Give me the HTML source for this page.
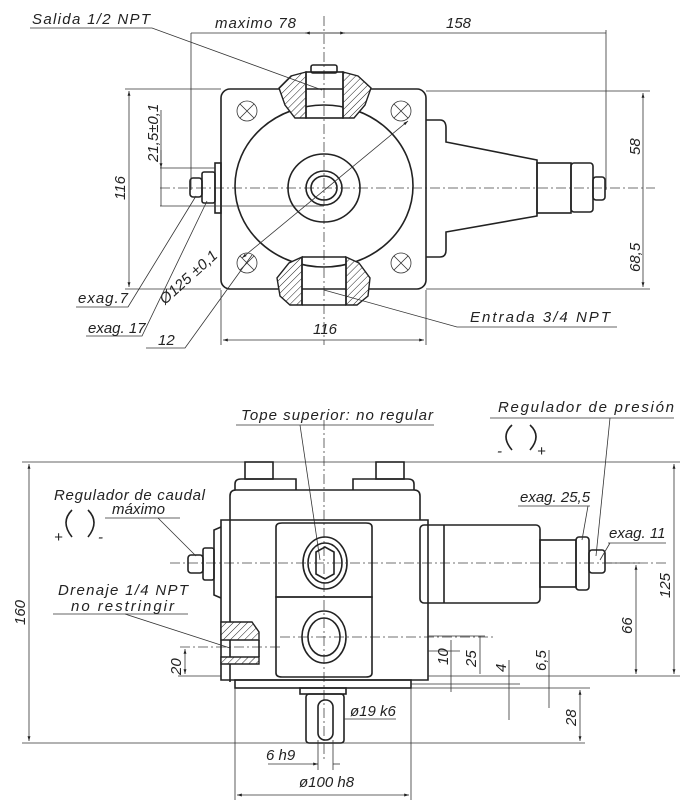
<!DOCTYPE html>
<html><head><meta charset="utf-8"><style>
html,body{margin:0;padding:0;background:#fff}
svg{display:block}
text{font-family:"Liberation Sans",sans-serif;font-style:italic;font-size:15px;fill:#222}
.l{stroke:#222;stroke-width:1.6;fill:none}
.t{stroke:#333;stroke-width:0.8;fill:none}
.c{stroke:#444;stroke-width:0.8;fill:none;stroke-dasharray:10 3 2 3}
.h{fill:url(#hat);stroke:#222;stroke-width:1.4}
</style></head><body>
<svg width="700" height="804" viewBox="0 0 700 804" xmlns="http://www.w3.org/2000/svg">
<defs>
<pattern id="hat" width="5" height="5" patternUnits="userSpaceOnUse" patternTransform="rotate(45)">
<rect width="5" height="5" fill="#fff"/><line x1="0" y1="0" x2="0" y2="5" stroke="#222" stroke-width="1"/></pattern>
<marker id="a" viewBox="0 0 10 10" refX="10" refY="5" markerWidth="8" markerHeight="6" orient="auto-start-reverse"><path d="M0,2 L10,5 L0,8z" fill="#222"/></marker>
</defs>

<!-- ===== TOP VIEW ===== -->
<line class="c" x1="160" y1="188" x2="655" y2="188"/>
<line class="c" x1="324" y1="16" x2="324" y2="345"/>
<rect class="l" x="221" y="89" width="205" height="200" rx="9"/>
<ellipse class="l" cx="324" cy="186" rx="89" ry="81"/>
<ellipse class="l" cx="324" cy="188" rx="36" ry="34"/>
<ellipse class="l" cx="324" cy="188" rx="18" ry="17"/>
<ellipse class="l" cx="324" cy="188" rx="13" ry="12"/>
<g class="t">
<circle cx="247" cy="111" r="10"/><path d="M240,104l14,14M254,104l-14,14"/>
<circle cx="401" cy="111" r="10"/><path d="M394,104l14,14M408,104l-14,14"/>
<circle cx="247" cy="263" r="10"/><path d="M240,256l14,14M254,256l-14,14"/>
<circle cx="401" cy="263" r="10"/><path d="M394,256l14,14M408,256l-14,14"/>
</g>
<path class="h" d="M306,72 L291,76 L279,88 L285,105 L295,118 L306,118Z"/>
<path class="h" d="M343,72 L358,76 L371,88 L365,105 L354,118 L343,118Z"/>
<rect class="l" x="306" y="72" width="37" height="46"/>
<rect class="l" x="311" y="65" width="26" height="8" rx="2"/>
<path class="h" d="M302,257 L289,263 L277,278 L280,296 L290,305 L302,305Z"/>
<path class="h" d="M346,257 L359,263 L370,278 L368,296 L357,305 L346,305Z"/>
<path class="l" d="M302,257 L346,257 M302,305 L346,305 M302,257 L302,305 M346,257 L346,305"/>
<path class="l" d="M426,120 L440,120 Q446,120 446,128 L446,142 L537,160 L537,216 L446,232 L446,250 Q446,257 440,257 L426,257"/>
<rect class="l" x="537" y="163" width="34" height="50"/>
<rect class="l" x="571" y="163" width="22" height="49" rx="3"/>
<rect class="l" x="593" y="177" width="12" height="23" rx="3"/>
<rect class="l" x="215" y="163" width="6" height="50"/>
<rect class="l" x="202" y="172" width="13" height="31" rx="2"/>
<rect class="l" x="190" y="178" width="12" height="19" rx="3"/>
<line class="t" x1="191" y1="33" x2="606" y2="33"/>
<line class="t" x1="191" y1="33" x2="191" y2="190" />
<line class="t" x1="606" y1="30" x2="606" y2="190"/>
<line class="t" x1="324" y1="33" x2="305" y2="33" marker-end="url(#a)"/>
<line class="t" x1="324" y1="33" x2="345" y2="33" marker-end="url(#a)"/>
<text x="215" y="28" textLength="81">maximo 78</text>
<text x="446" y="28">158</text>
<text x="32" y="24" textLength="118">Salida 1/2 NPT</text>
<polyline class="t" points="30,28 152,28 322,90"/>
<line class="t" x1="125" y1="89" x2="221" y2="89"/>
<line class="t" x1="125" y1="289" x2="221" y2="289"/>
<line class="t" x1="129" y1="91" x2="129" y2="287" marker-start="url(#a)" marker-end="url(#a)"/>
<text transform="translate(125,200) rotate(-90)">116</text>
<line class="t" x1="160" y1="168" x2="215" y2="168"/>
<line class="t" x1="160" y1="206" x2="324" y2="206"/>
<line class="t" x1="161" y1="110" x2="161" y2="206"/>
<line class="t" x1="161" y1="150" x2="161" y2="168" marker-end="url(#a)"/>
<text transform="translate(158,162) rotate(-90)">21,5±0,1</text>
<line class="t" x1="426" y1="91" x2="650" y2="91"/>
<line class="t" x1="426" y1="289" x2="650" y2="289"/>
<line class="t" x1="643" y1="93" x2="643" y2="287" marker-start="url(#a)" marker-end="url(#a)"/>
<text transform="translate(640,155) rotate(-90)">58</text>
<text transform="translate(640,272) rotate(-90)">68,5</text>
<line class="t" x1="408" y1="121" x2="242" y2="258" marker-start="url(#a)" marker-end="url(#a)"/>
<text transform="translate(165,305) rotate(-42)" textLength="72">Ø125 ±0,1</text>
<polyline class="t" points="76,307 128,307 196,196"/>
<text x="78" y="303" textLength="50">exag.7</text>
<polyline class="t" points="86,336 142,336 207,201"/>
<text x="88" y="333">exag. 17</text>
<polyline class="t" points="146,348 185,348 252,255"/>
<text x="158" y="345">12</text>
<line class="t" x1="221" y1="290" x2="221" y2="345"/>
<line class="t" x1="426" y1="290" x2="426" y2="345"/>
<line class="t" x1="223" y1="340" x2="424" y2="340" marker-start="url(#a)" marker-end="url(#a)"/>
<text x="313" y="334">116</text>
<polyline class="t" points="324,290 457,327 617,327"/>
<text x="470" y="322" textLength="140">Entrada 3/4 NPT</text>

<!-- ===== BOTTOM VIEW ===== -->
<line class="c" x1="170" y1="563" x2="668" y2="563"/>
<line class="c" x1="324" y1="420" x2="324" y2="760"/>
<line class="c" x1="180" y1="647" x2="280" y2="647"/>
<line class="c" x1="280" y1="637" x2="495" y2="637"/>
<text x="241" y="420" textLength="192">Tope superior: no regular</text>
<line class="t" x1="236" y1="425" x2="434" y2="425"/>
<line class="t" x1="300" y1="425" x2="320" y2="560"/>
<text x="498" y="412" textLength="176">Regulador de presión</text>
<line class="t" x1="490" y1="418" x2="674" y2="418"/>
<line class="t" x1="610" y1="418" x2="596" y2="556"/>
<path class="l" d="M512,450 Q500,436 512,425 M530,425 Q542,436 530,450"/>
<text x="497" y="456">-</text><text x="537" y="456">+</text>
<line class="t" x1="22" y1="462" x2="680" y2="462"/>
<line class="t" x1="22" y1="743" x2="585" y2="743"/>
<line class="t" x1="29" y1="464" x2="29" y2="741" marker-start="url(#a)" marker-end="url(#a)"/>
<text transform="translate(25,625) rotate(-90)">160</text>
<rect class="l" x="245" y="462" width="28" height="17"/>
<rect class="l" x="376" y="462" width="28" height="17"/>
<path class="l" d="M235,490 L235,484 Q235,479 241,479 L296,479 L296,490 M353,490 L353,479 L408,479 Q414,479 414,484 L414,490"/>
<path class="l" d="M230,520 L230,496 Q230,490 236,490 L414,490 Q420,490 420,496 L420,520"/>
<path class="l" d="M221,520 L428,520 L428,680 L221,680 Z"/>
<path class="l" d="M230,520 L230,682 M221,527 L214,530 L214,595 L221,598"/>
<path class="l" d="M276,527 Q276,523 282,523 L366,523 Q372,523 372,527 L372,597 L276,597Z"/>
<path class="l" d="M276,597 L372,597 L372,673 Q372,677 366,677 L282,677 Q276,677 276,673Z"/>
<ellipse class="l" cx="325" cy="563" rx="22" ry="26"/>
<ellipse class="l" cx="325" cy="563" rx="17" ry="20"/>
<path class="l" d="M316,552 L325,547 L334,552 L334,574 L325,579 L316,574Z"/>
<ellipse class="l" cx="324" cy="637" rx="22" ry="26"/>
<ellipse class="l" cx="324" cy="637" rx="16" ry="19"/>
<rect class="l" x="420" y="525" width="120" height="78" rx="4"/>
<line class="l" x1="444" y1="525" x2="444" y2="603"/>
<rect class="l" x="540" y="540" width="36" height="47"/>
<rect class="l" x="576" y="537" width="13" height="53" rx="3"/>
<rect class="l" x="589" y="550" width="16" height="23" rx="3"/>
<rect class="l" x="203" y="548" width="11" height="32" rx="2"/>
<rect class="l" x="188" y="555" width="15" height="18" rx="3"/>
<path class="h" d="M221,622 L252,622 L259,632 L259,640 L221,640Z"/>
<path class="h" d="M221,657 L259,657 L259,664 L221,664Z"/>
<path class="l" d="M259,640 L259,657"/>
<rect class="l" x="235" y="680" width="176" height="8"/>
<rect class="l" x="300" y="688" width="46" height="6"/>
<rect class="l" x="306" y="694" width="38" height="49" rx="3"/>
<rect class="l" x="318" y="700" width="15" height="40" rx="7"/>
<text x="54" y="500" textLength="151">Regulador de caudal</text>
<text x="112" y="514" textLength="53">máximo</text>
<line class="t" x1="105" y1="518" x2="180" y2="518"/>
<line class="t" x1="158" y1="518" x2="196" y2="556"/>
<path class="l" d="M72,537 Q60,522 72,510 M88,510 Q100,522 88,537"/>
<text x="54" y="542">+</text><text x="98" y="542">-</text>
<text x="58" y="595" textLength="130">Drenaje 1/4 NPT</text>
<text x="71" y="611" textLength="103">no restringir</text>
<line class="t" x1="53" y1="614" x2="188" y2="614"/>
<line class="t" x1="125" y1="614" x2="230" y2="648"/>
<text x="520" y="502">exag. 25,5</text>
<line class="t" x1="518" y1="506" x2="590" y2="506"/>
<line class="t" x1="588" y1="506" x2="582" y2="540"/>
<text x="609" y="538">exag. 11</text>
<line class="t" x1="608" y1="543" x2="666" y2="543"/>
<line class="t" x1="610" y1="543" x2="600" y2="560"/>
<line class="t" x1="428" y1="676" x2="680" y2="676"/>
<line class="t" x1="605" y1="563" x2="640" y2="563"/>
<line class="t" x1="674" y1="464" x2="674" y2="674" marker-start="url(#a)" marker-end="url(#a)"/>
<text transform="translate(670,598) rotate(-90)">125</text>
<line class="t" x1="636" y1="565" x2="636" y2="674" marker-start="url(#a)" marker-end="url(#a)"/>
<text transform="translate(632,634) rotate(-90)">66</text>
<line class="t" x1="411" y1="688" x2="590" y2="688"/>
<line class="t" x1="411" y1="684" x2="520" y2="684"/>
<line class="t" x1="580" y1="690" x2="580" y2="741" marker-start="url(#a)" marker-end="url(#a)"/>
<text transform="translate(576,726) rotate(-90)">28</text>
<line class="t" x1="428" y1="651" x2="460" y2="651"/>
<line class="t" x1="451" y1="640" x2="451" y2="692"/>
<text transform="translate(448,665) rotate(-90)">10</text>
<line class="t" x1="428" y1="636" x2="485" y2="636"/>
<line class="t" x1="480" y1="636" x2="480" y2="674"/>
<text transform="translate(476,667) rotate(-90)">25</text>
<line class="t" x1="509" y1="660" x2="509" y2="720"/>
<text transform="translate(506,672) rotate(-90)">4</text>
<line class="t" x1="549" y1="650" x2="549" y2="708"/>
<text transform="translate(546,671) rotate(-90)">6,5</text>
<line class="t" x1="185" y1="649" x2="185" y2="674" marker-start="url(#a)" marker-end="url(#a)"/>
<line class="t" x1="178" y1="676" x2="221" y2="676"/>
<text transform="translate(181,675) rotate(-90)">20</text>
<line class="t" x1="344" y1="719" x2="396" y2="719"/>
<text x="350" y="716">ø19 k6</text>
<line class="t" x1="268" y1="764" x2="318" y2="764" marker-end="url(#a)"/>
<line class="t" x1="333" y1="764" x2="340" y2="764"/>
<line class="t" x1="318" y1="740" x2="318" y2="770"/>
<line class="t" x1="333" y1="740" x2="333" y2="770"/>
<text x="266" y="760">6 h9</text>
<text x="299" y="787">ø100 h8</text>
<line class="t" x1="235" y1="688" x2="235" y2="800"/>
<line class="t" x1="411" y1="688" x2="411" y2="800"/>
<line class="t" x1="237" y1="795" x2="409" y2="795" marker-start="url(#a)" marker-end="url(#a)"/>
</svg>
</body></html>
